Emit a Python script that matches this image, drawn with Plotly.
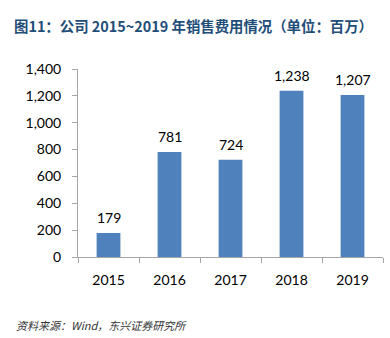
import plotly.graph_objects as go

years = ["2015", "2016", "2017", "2018", "2019"]
sales_expense = [179, 781, 724, 1238, 1207]
label_text = ["179", "781", "724", "1,238", "1,207"]
y_ticks = [0, 200, 400, 600, 800, 1000, 1200, 1400]
y_tick_text = ["0", "200", "400", "600", "800", "1,000", "1,200", "1,400"]

title_text = "图11：公司 2015~2019 年销售费用情况（单位：百万）"
source_text = "资料来源：Wind，东兴证券研究所"

fig = go.Figure()
fig.add_trace(go.Bar(
    x=years, y=sales_expense,
    marker=dict(color="#4F81BD", line=dict(width=0)),
    hoverinfo="skip",
))

for i, (y, t) in enumerate(zip(sales_expense, label_text)):
    fig.add_annotation(x=i, y=y, text=t, showarrow=False, yanchor="bottom",
                       yshift=5, font=dict(family="Lato", size=14, color="#000000"))

fig.add_annotation(text="<b>" + title_text + "</b>", xref="paper", yref="paper",
                   x=-66/305, y=(257-25)/188, xanchor="left", yanchor="middle",
                   showarrow=False,
                   font=dict(family="Noto Sans CJK SC", size=14.4, color="#1F4E79"))
fig.add_annotation(text="<i>" + source_text + "</i>", xref="paper", yref="paper",
                   x=-64/305, y=(257-325)/188, xanchor="left", yanchor="middle",
                   showarrow=False,
                   font=dict(family="Noto Sans CJK SC", size=11, color="#333333"))

fig.update_layout(
    width=390, height=338,
    margin=dict(l=78, r=7, t=69, b=81),
    paper_bgcolor="white", plot_bgcolor="white",
    bargap=0.61,
    showlegend=False,
    xaxis=dict(type="category", range=[-0.5, 4.5], showline=True, linecolor="#A6A6A6",
               linewidth=1, ticks="outside", ticklen=5, tickcolor="#A6A6A6",
               tickson="boundaries", ticklabelstandoff=10,
               tickfont=dict(family="Lato", size=14, color="#000000"),
               showgrid=False, zeroline=False, fixedrange=True),
    yaxis=dict(range=[0, 1400], tickvals=y_ticks, ticktext=y_tick_text,
               showline=True, linecolor="#A6A6A6", linewidth=1,
               ticks="outside", ticklen=5, tickcolor="#A6A6A6",
               ticklabelstandoff=8,
               tickfont=dict(family="Lato", size=14, color="#000000"),
               showgrid=False, zeroline=False, fixedrange=True),
)

fig.write_html("out.html")
